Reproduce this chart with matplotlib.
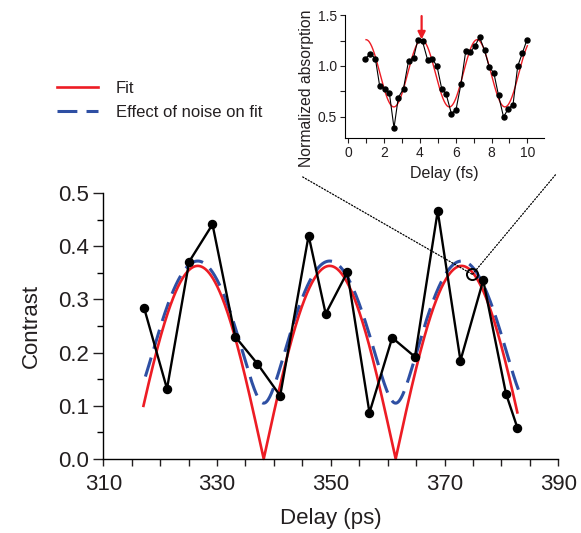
import numpy as np
import matplotlib
matplotlib.use("Agg")
import matplotlib.pyplot as plt
from matplotlib.ticker import MultipleLocator, FixedLocator, FormatStrFormatter
from matplotlib.patches import ConnectionPatch
from matplotlib.lines import Line2D

plt.rcParams['font.family'] = ['Liberation Sans', 'DejaVu Sans']
TXT = '#231f20'

# Contrast vs delay (main panel)
delay_ps = [317.2, 321.2, 325.1, 329.2, 333.2, 337.1, 341.1, 346.1, 349.1,
            352.9, 356.8, 360.8, 364.8, 368.8, 372.8, 376.8, 380.8, 382.8]
contrast = [0.283, 0.132, 0.371, 0.441, 0.230, 0.179, 0.119, 0.420, 0.273,
            0.351, 0.087, 0.228, 0.192, 0.466, 0.185, 0.336, 0.123, 0.059]
x_ticks = [310, 330, 350, 370, 390]

# Fit parameters: |sin| envelope with nodes every fit_period ps
fit_amp = 0.363
fit_node = 338.2
fit_period = 23.2
fit_range = (317.06, 382.8)
# Fit including a noise floor added in quadrature
noise_amp = 0.357
noise_floor = 0.105
noise_range = (317.4, 383.6)

# Highlighted point linked to the inset
marked_point = (374.9, 0.347)

# Normalized absorption vs delay (inset)
delay_fs = [0.96, 1.24, 1.52, 1.76, 2.07, 2.30, 2.56, 2.80, 3.09, 3.37, 3.65,
            3.89, 4.15, 4.43, 4.69, 4.96, 5.22, 5.46, 5.76, 6.02, 6.30, 6.56,
            6.81, 7.07, 7.33, 7.61, 7.87, 8.13, 8.39, 8.67, 8.94, 9.20, 9.46,
            9.72, 9.98]
absorption = [1.072, 1.121, 1.072, 0.804, 0.778, 0.735, 0.392, 0.690, 0.778,
              1.049, 1.078, 1.258, 1.242, 1.062, 1.072, 0.997, 0.778, 0.729,
              0.533, 0.572, 0.827, 1.144, 1.137, 1.193, 1.284, 1.154, 0.990,
              0.931, 0.712, 0.500, 0.582, 0.621, 0.997, 1.127, 1.258]
# Cosine fit of the inset trace
in_mean, in_amp, in_peak, in_period = 0.928, 0.330, 4.1, 3.1
in_range = (1.0, 10.0)
arrow_x = 4.1

fig = plt.figure(figsize=(5.81, 5.33), dpi=100)

# ---------------- main panel ----------------
ax = fig.add_axes([0.1778, 0.1388, 0.7831, 0.4991])
xf = np.linspace(*fit_range, 800)
yf = fit_amp * np.abs(np.sin(np.pi * (xf - fit_node) / fit_period))
xn = np.linspace(*noise_range, 800)
yn = np.sqrt((noise_amp * np.sin(np.pi * (xn - fit_node) / fit_period)) ** 2
             + noise_floor ** 2)

ax.plot(xf, yf, color='#ed1c24', lw=1.9, zorder=2, clip_on=False)
ax.plot(xn, yn, color='#2e4fa3', lw=2.2, ls=(0, (6.5, 3.0)), zorder=1)
ax.plot(delay_ps, contrast, color='black', lw=1.7, marker='o', ms=5.8,
        zorder=3, clip_on=False)
ax.plot(*marked_point, marker='o', ms=8, mfc='none', mec='black', mew=1.4,
        zorder=4)

ax.set_xlim(310, 390)
ax.set_ylim(0, 0.5)
ax.xaxis.set_major_locator(FixedLocator(x_ticks))
ax.xaxis.set_minor_locator(MultipleLocator(5))
ax.yaxis.set_major_locator(MultipleLocator(0.1))
ax.yaxis.set_minor_locator(MultipleLocator(0.05))
ax.yaxis.set_major_formatter(FormatStrFormatter('%.1f'))
ax.tick_params(axis='x', which='both', direction='out', length=5, width=1,
               labelsize=16, colors=TXT, pad=6)
ax.tick_params(axis='y', which='major', direction='out', length=7, width=1,
               labelsize=16, colors=TXT, pad=3)
ax.tick_params(axis='y', which='minor', direction='out', length=4, width=1)
for s in ('top', 'right'):
    ax.spines[s].set_visible(False)
for s in ('left', 'bottom'):
    ax.spines[s].set_linewidth(1)
ax.set_xlabel('Delay (ps)', fontsize=16, color=TXT, labelpad=9)
ax.set_ylabel('Contrast', fontsize=16, color=TXT, labelpad=12)

# legend
handles = [Line2D([], [], color='#ed1c24', lw=1.9),
           Line2D([], [], color='#2e4fa3', lw=2.2, ls=(0, (6.5, 3.0)))]
fig.legend(handles, ['Fit', 'Effect of noise on fit'], loc='upper left',
           bbox_to_anchor=(0.098, 0.848), frameon=False, fontsize=12,
           handlelength=2.45, handletextpad=1.1, labelspacing=0.55,
           borderpad=0, borderaxespad=0, labelcolor=TXT)

# ---------------- inset ----------------
ai = fig.add_axes([0.593, 0.7405, 0.344, 0.2313])
xi = np.linspace(*in_range, 400)
yi = in_mean + in_amp * np.cos(2 * np.pi * (xi - in_peak) / in_period)
ai.plot(xi, yi, color='#ed1c24', lw=1.0, zorder=2)
ai.plot(delay_fs, absorption, color='black', lw=0.8, marker='o', ms=3.6,
        zorder=3)
ai.annotate('', xy=(arrow_x, 1.26), xytext=(arrow_x, 1.49),
            arrowprops=dict(arrowstyle='-|>', color='#ed1c24', lw=1.6,
                            mutation_scale=11, shrinkA=0, shrinkB=0))
ai.set_xlim(-0.2, 10.95)
ai.set_ylim(0.29, 1.5)
ai.xaxis.set_major_locator(MultipleLocator(2))
ai.xaxis.set_minor_locator(MultipleLocator(1))
ai.yaxis.set_major_locator(FixedLocator([0.5, 1.0, 1.5]))
ai.yaxis.set_minor_locator(FixedLocator([0.75, 1.25]))
ai.yaxis.set_major_formatter(FormatStrFormatter('%.1f'))
ai.tick_params(which='both', direction='out', length=3.5, width=0.8,
               labelsize=10, colors=TXT, pad=2)
for s in ('top', 'right'):
    ai.spines[s].set_visible(False)
for s in ('left', 'bottom'):
    ai.spines[s].set_linewidth(0.8)
ai.set_xlabel('Delay (fs)', fontsize=11.5, color=TXT, labelpad=4)
ai.set_ylabel('Normalized absorption', fontsize=11.3, color=TXT)
ai.yaxis.set_label_coords(-0.155, 0.41)

# dotted zoom lines from the inset down to the marked point
for start in [(0.521, 0.668), (0.956, 0.672)]:
    con = ConnectionPatch(xyA=start, coordsA='figure fraction',
                          xyB=marked_point, coordsB=ax.transData,
                          color='black', lw=0.9, ls=(0, (1, 1.5)))
    fig.add_artist(con)

fig.savefig('out.png', dpi=100)
